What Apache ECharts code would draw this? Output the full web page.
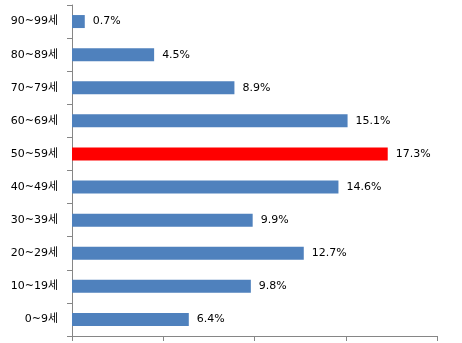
<!DOCTYPE html>
<html>
<head>
<meta charset="utf-8">
<script src="https://cdn.jsdelivr.net/npm/echarts@6/dist/echarts.min.js"></script>
<style>
html,body{margin:0;padding:0;background:#fff;}
#main{width:462px;height:343px;}
</style>
</head>
<body>
<div id="main"></div>
<script>
const categories = ['0~9세','10~19세','20~29세','30~39세','40~49세','50~59세','60~69세','70~79세','80~89세','90~99세'];
const values = [6.4, 9.8, 12.7, 9.9, 14.6, 17.3, 15.1, 8.9, 4.5, 0.7];
const highlightIndex = 5;

const chart = echarts.init(document.getElementById('main'), null, {renderer:'canvas'});
const font = "'DejaVu Sans', 'Noto Sans CJK KR', sans-serif";
chart.setOption({
  animation:false,
  backgroundColor:'#ffffff',
  grid:{left:72, right:25, top:5, bottom:7, containLabel:false},
  xAxis:{
    type:'value', min:0, max:20, interval:5,
    axisLine:{show:true, lineStyle:{color:'#868686', width:1}},
    axisTick:{show:true, length:5, lineStyle:{color:'#868686'}},
    axisLabel:{show:false},
    splitLine:{show:false}
  },
  yAxis:{
    type:'category', data:categories,
    axisLine:{show:true, lineStyle:{color:'#868686', width:1}},
    axisTick:{show:true, length:5, lineStyle:{color:'#868686'}},
    axisLabel:{color:'#000', fontSize:11, fontFamily:font, margin:14}
  },
  series:[{
    type:'bar',
    data: values.map((v,i)=>({value:v, itemStyle:{color: i===highlightIndex ? '#FF0000' : '#4F81BD'}})),
    barWidth:13,
    label:{show:true, position:'right', distance:8, color:'#000', fontSize:11, fontFamily:font, formatter: p => p.value.toFixed(1)+'%'}
  }]
});
</script>
</body>
</html>
